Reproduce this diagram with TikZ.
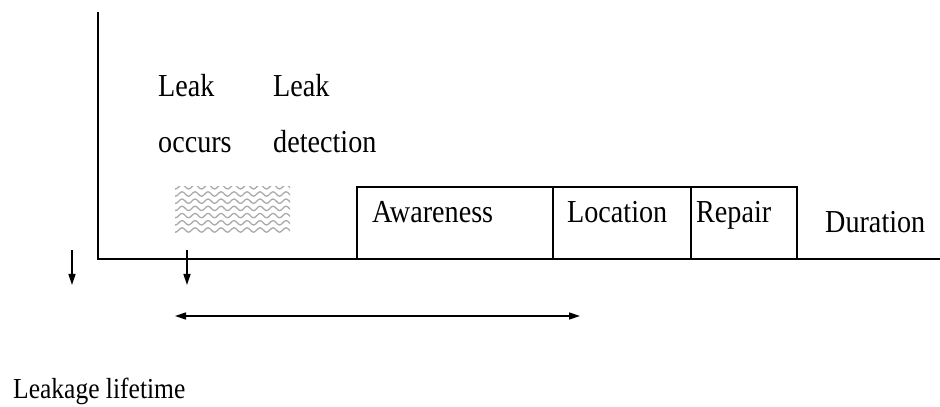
\documentclass[tikz,border=0pt]{standalone}
\usepackage{fontspec}
\setmainfont{Liberation Serif}[FakeStretch=0.88]
\usetikzlibrary{arrows.meta,decorations.pathmorphing}
\tikzset{
  lbl/.style={anchor=base west, inner sep=0pt, font=\fontsize{32}{34}\selectfont},
  axisline/.style={line width=2.3pt},
  boxline/.style={line width=2pt},
  downarrow/.style={line width=1.4pt, -{Triangle[width=7pt,length=11pt]}},
  spanarrow/.style={line width=1.4pt, {Triangle[width=7pt,length=11pt]}-{Triangle[width=7pt,length=11pt]}},
  wave/.style={draw=black!33, line width=1.3pt, decorate,
    decoration={snake, amplitude=2.2pt, segment length=13pt}}
}
\begin{document}
\begin{tikzpicture}[x=1pt,y=1pt]
\useasboundingbox (0,0) rectangle (940,407);

% axes
\coordinate (axtop) at (98,395);
\coordinate (origin) at (98,148);
\coordinate (axend) at (940,148);
\draw[axisline] (axtop) -- (origin) -- (axend);

% phases along the time line
\coordinate (b0) at (357,148);
\coordinate (b1) at (553,148);
\coordinate (b2) at (691,148);
\coordinate (b3) at (797,148);
\draw[boxline] (b0) |- (797,220) -- (b3);
\draw[boxline] (b1) -- (553,220);
\draw[boxline] (b2) -- (691,220);

% hatched leak period
\begin{scope}
  \clip (175,174) rectangle (290,220);
  \foreach \r in {0,...,6}
    \draw[wave] (165,177+\r*7.2) -- (300,177+\r*7.2);
\end{scope}

% labels
\node[lbl] (leak1) at (158,310) {Leak};
\node[lbl] (occ) at (158,254) {occurs};
\node[lbl] (leak2) at (273,310) {Leak};
\node[lbl] (det) at (273,254) {detection};
\node[lbl] (aw) at (372,184) {Awareness};
\node[lbl] (loc) at (567,184) {Location};
\node[lbl] (rep) at (696,184) {Repair};
\node[lbl] (dur) at (825,174) {Duration};
\node[anchor=base west, inner sep=0pt, font=\fontsize{29}{31}\selectfont] (life) at (13,9) {Leakage lifetime};

% time markers
\coordinate (m1a) at (72,157);
\coordinate (m1b) at (72,122);
\coordinate (m2a) at (187,157);
\coordinate (m2b) at (187,122);
\draw[downarrow] (m1a) -- (m1b);
\draw[downarrow] (m2a) -- (m2b);

% lifetime span
\coordinate (sa) at (175,91);
\coordinate (sb) at (580,91);
\draw[spanarrow] (sa) -- (sb);
\end{tikzpicture}
\end{document}
